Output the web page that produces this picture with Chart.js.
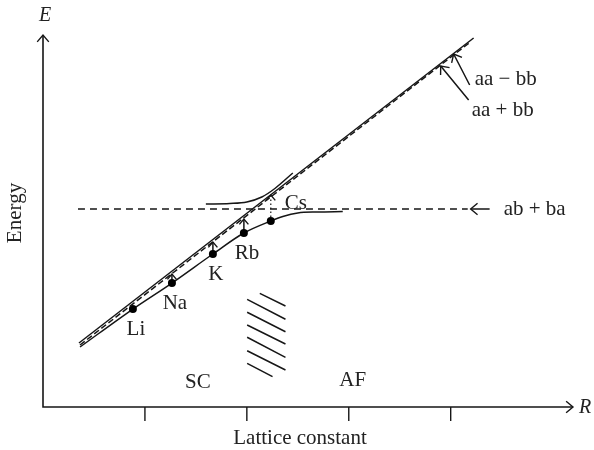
<!DOCTYPE html>
<html>
<head>
<meta charset="utf-8">
<script src="https://cdn.jsdelivr.net/npm/chart.js@4"></script>
<style>
  body { margin: 0; background: #fff; }
  canvas { display: block; }
</style>
</head>
<body>
<canvas id="chart" width="594" height="450"></canvas>
<script>
// schematic: energy levels of the alkali chain vs lattice constant

const xTicks = [1, 2, 3, 4]

const elements = ['Li', 'Na', 'K', 'Rb', 'Cs']
const elemR = [0.882, 1.265, 1.667, 1.971, 2.235]
const elemE = [2.634, 3.333, 4.113, 4.677, 5.0]
// top of the small arrow above each element (null = no arrow)
const elemArrowE = [null, 3.575, 4.435, 5.054, 5.699]

// lower branch, before Li and past Cs
const lowHeadR = [0.363]
const lowHeadE = [1.613]
const lowTailR = [2.353, 2.50, 2.696, 2.941]
const lowTailE = [5.12, 5.215, 5.242, 5.255]

// upper branch of the anticrossing
const upperR = [1.598, 1.833, 2.0, 2.147, 2.275, 2.451]
const upperE = [5.457, 5.470, 5.511, 5.645, 5.874, 6.290]

// aa - bb (solid) and aa + bb (dashed) diagonal lines
const aaMinusR = [0.353, 4.225]
const aaMinusE = [1.720, 9.919]
const aaPlusR = [0.363, 4.186]
const aaPlusE = [1.667, 9.798]

// ab + ba flat level
const abE = 5.323
const abR = [0.343, 4.167]

// hatched boundary between SC and AF
const hatchR1 = [2.127, 2.003, 2.003, 2.003, 2.003, 2.003, 2.003]
const hatchE1 = [3.056, 2.895, 2.546, 2.204, 1.874, 1.513, 1.175]
const hatchR2 = [2.379, 2.379, 2.379, 2.379, 2.379, 2.379, 2.252]
const hatchE2 = [2.715, 2.358, 2.024, 1.694, 1.336, 0.995, 0.815]

// label arrows: tail -> tip
const labelArrows = [
  { text: 'aa \u2212 bb', from: [4.186, 8.656], to: [4.029, 9.489], at: [4.235, 8.817] },
  { text: 'aa + bb', from: [4.176, 8.253], to: [3.902, 9.167], at: [4.206, 7.984] },
  { text: 'ab + ba', from: [4.382, abE], to: [4.196, abE], at: [4.52, abE] }
]

const regionLabels = [
  { text: 'SC', at: [1.52, 0.672] },
  { text: 'AF', at: [3.039, 0.726] }
]

const INK = '#161616'
const FONT = '"Liberation Serif", "DejaVu Serif", serif'

const zip = (xs, ys) => xs.map((x, i) => ({ x, y: ys[i] }))

// build the lower branch through the element points
const lowerData = [
  ...zip(lowHeadR, lowHeadE),
  ...zip(elemR, elemE),
  ...zip(lowTailR, lowTailE)
]
const lowerRadius = lowerData.map((_, i) => (i >= lowHeadR.length && i < lowHeadR.length + elements.length ? 4 : 0))

const hatchData = []
hatchR1.forEach((r, i) => {
  hatchData.push({ x: r, y: hatchE1[i] }, { x: hatchR2[i], y: hatchE2[i] }, { x: r, y: null })
})

const shaftData = []
const dottedData = []
elemArrowE.forEach((top, i) => {
  if (top == null) return
  const seg = [{ x: elemR[i], y: elemE[i] }, { x: elemR[i], y: top }, { x: elemR[i], y: null }]
  if (elements[i] === 'Cs') dottedData.push(...seg)
  else shaftData.push(...seg)
})
labelArrows.forEach(a => {
  shaftData.push({ x: a.from[0], y: a.from[1] }, { x: a.to[0], y: a.to[1] }, { x: a.to[0], y: null })
})

function line(data, extra) {
  return Object.assign({
    data,
    borderColor: INK,
    borderWidth: 1.5,
    pointRadius: 0,
    showLine: true,
    fill: false,
    spanGaps: false,
    clip: false
  }, extra)
}

function arrowHead(ctx, x1, y1, x2, y2, len) {
  const ang = Math.atan2(y2 - y1, x2 - x1)
  const spread = 0.7
  ctx.beginPath()
  ctx.moveTo(x2 - len * Math.cos(ang - spread), y2 - len * Math.sin(ang - spread))
  ctx.lineTo(x2, y2)
  ctx.lineTo(x2 - len * Math.cos(ang + spread), y2 - len * Math.sin(ang + spread))
  ctx.stroke()
}

const decorPlugin = {
  id: 'decor',
  afterDatasetsDraw(chart) {
    const { ctx, scales: { x, y } } = chart
    const px = v => x.getPixelForValue(v)
    const py = v => y.getPixelForValue(v)
    const x0 = px(x.min), x1 = px(x.max)
    const y0 = py(y.min), y1 = py(y.max)

    ctx.save()
    ctx.strokeStyle = INK
    ctx.fillStyle = '#222'
    ctx.lineWidth = 1.6

    // axes with arrow tips
    ctx.beginPath()
    ctx.moveTo(x0, y1)
    ctx.lineTo(x0, y0)
    ctx.lineTo(x1, y0)
    ctx.stroke()
    ctx.lineWidth = 1.4
    arrowHead(ctx, x0, y0, x0, y1, 9)
    arrowHead(ctx, x0, y0, x1, y0, 9)

    // tick marks below the axis
    xTicks.forEach(t => {
      ctx.beginPath()
      ctx.moveTo(px(t), y0)
      ctx.lineTo(px(t), y0 + 14)
      ctx.stroke()
    })

    // small arrow heads over the elements
    elemArrowE.forEach((top, i) => {
      if (top == null) return
      arrowHead(ctx, px(elemR[i]), py(elemE[i]), px(elemR[i]), py(top), 7)
    })
    labelArrows.forEach(a => {
      arrowHead(ctx, px(a.from[0]), py(a.from[1]), px(a.to[0]), py(a.to[1]), 9)
    })

    // texts
    ctx.font = '21px ' + FONT
    ctx.textBaseline = 'middle'
    ctx.textAlign = 'center'
    elements.forEach((name, i) => {
      const dx = name === 'Cs' ? 25 : 3
      const dy = name === 'Cs' ? -18 : 20
      ctx.fillText(name, px(elemR[i]) + dx, py(elemE[i]) + dy)
    })
    regionLabels.forEach(l => ctx.fillText(l.text, px(l.at[0]), py(l.at[1])))

    ctx.textAlign = 'left'
    labelArrows.forEach(a => ctx.fillText(a.text, px(a.at[0]), py(a.at[1])))

    ctx.textAlign = 'center'
    ctx.fillText('Lattice constant', (x0 + x1) / 2 - 8, y0 + 31)

    ctx.save()
    ctx.translate(15, 213)
    ctx.rotate(-Math.PI / 2)
    ctx.fillText('Energy', 0, 0)
    ctx.restore()

    ctx.font = 'italic 20px ' + FONT
    ctx.fillText('E', x0 + 2, y1 - 19)
    ctx.textAlign = 'left'
    ctx.fillText('R', x1 + 6, y0 + 1)

    ctx.restore()
  }
}

new Chart(document.getElementById('chart'), {
  type: 'scatter',
  data: {
    datasets: [
      line(zip(aaMinusR, aaMinusE)),
      line(zip(aaPlusR, aaPlusE), { borderDash: [6, 3] }),
      line(abR.map(r => ({ x: r, y: abE })), { borderDash: [7, 5] }),
      line(lowerData, {
        pointRadius: lowerRadius,
        pointBackgroundColor: '#000',
        pointBorderWidth: 0,
        cubicInterpolationMode: 'monotone'
      }),
      line(zip(upperR, upperE), { cubicInterpolationMode: 'monotone' }),
      line(hatchData),
      line(shaftData),
      line(dottedData, { borderDash: [1.5, 2.5], borderWidth: 1.2 })
    ]
  },
  options: {
    responsive: false,
    devicePixelRatio: 1,
    animation: false,
    events: [],
    layout: { padding: { left: 43, right: 21, top: 35, bottom: 43 } },
    plugins: { legend: { display: false }, tooltip: { enabled: false } },
    scales: {
      x: { type: 'linear', min: 0, max: 5.2, display: false },
      y: { type: 'linear', min: 0, max: 10, display: false }
    }
  },
  plugins: [decorPlugin]
})
</script>
</body>
</html>
